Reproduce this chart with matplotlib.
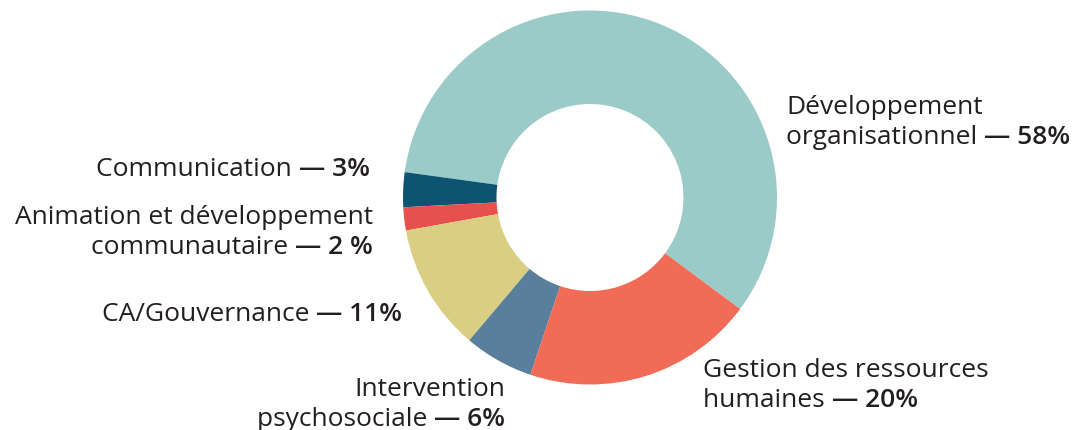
import matplotlib
matplotlib.use("Agg")
import matplotlib.pyplot as plt

# Data
categories = ["Développement organisationnel", "Communication",
              "Animation et développement communautaire", "CA/Gouvernance",
              "Intervention psychosociale", "Gestion des ressources humaines"]
values = [58, 3, 2, 11, 6, 20]
colors = ["#9ACBC8", "#0D5472", "#E8504D", "#D9CE82", "#5A7F9C", "#F26B56"]
# label texts: (normal lines..., bold part)
label_lines = [
    (["Développement", "organisationnel "], "— 58%"),
    (["Communication "], "— 3%"),
    (["Animation et développement", "communautaire "], "— 2 %"),
    (["CA/Gouvernance "], "— 11%"),
    (["Intervention", "psychosociale "], "— 6%"),
    (["Gestion des ressources", "humaines "], "— 20%"),
]

W, H = 1073, 431
fig = plt.figure(figsize=(W / 100, H / 100), dpi=100)
ax = fig.add_axes([0, 0, 1, 1])
ax.set_xlim(0, W)
ax.set_ylim(H, 0)
ax.axis("off")

pax = fig.add_axes([0, 0, 1, 1])
cx, cy, R = 590, H - 198.5, 187
pax.pie(values, colors=colors, startangle=-36.6, counterclock=True,
        center=(cx, cy), radius=R, frame=True,
        wedgeprops=dict(width=R * 0.5, linewidth=0))
pax.set_xlim(0, W)
pax.set_ylim(0, H)
pax.set_aspect("auto")
pax.axis("off")

FONT = "Open Sans"
FS = 19
TC = "#231F20"
LH = 29.5

anchors = [
    (786, 108, "left"),
    (370, 170, "right"),
    (373, 218, "right"),
    (402, 315, "right"),
    (505, 390, "right"),
    (703, 371, "left"),
]

fig.canvas.draw()
renderer = fig.canvas.get_renderer()


def width_px(t):
    return t.get_window_extent(renderer=renderer).width


for (lines, bold), (x, y, ha) in zip(label_lines, anchors):
    for i, line in enumerate(lines):
        yy = y + i * LH
        last = i == len(lines) - 1
        if ha == "left":
            t = ax.text(x, yy, line, fontsize=FS, family=FONT, color=TC,
                        ha="left", va="center")
            if last:
                w = width_px(t)
                ax.text(x + w, yy, bold, fontsize=FS, family=FONT, color=TC,
                        fontweight="semibold", ha="left", va="center")
        else:
            if last:
                tb = ax.text(x, yy, bold, fontsize=FS, family=FONT, color=TC,
                             fontweight="semibold", ha="right", va="center")
                w = width_px(tb)
                ax.text(x - w, yy, line, fontsize=FS, family=FONT, color=TC,
                        ha="right", va="center")
            else:
                ax.text(x, yy, line, fontsize=FS, family=FONT, color=TC,
                        ha="right", va="center")

fig.savefig("out.png", dpi=100)
